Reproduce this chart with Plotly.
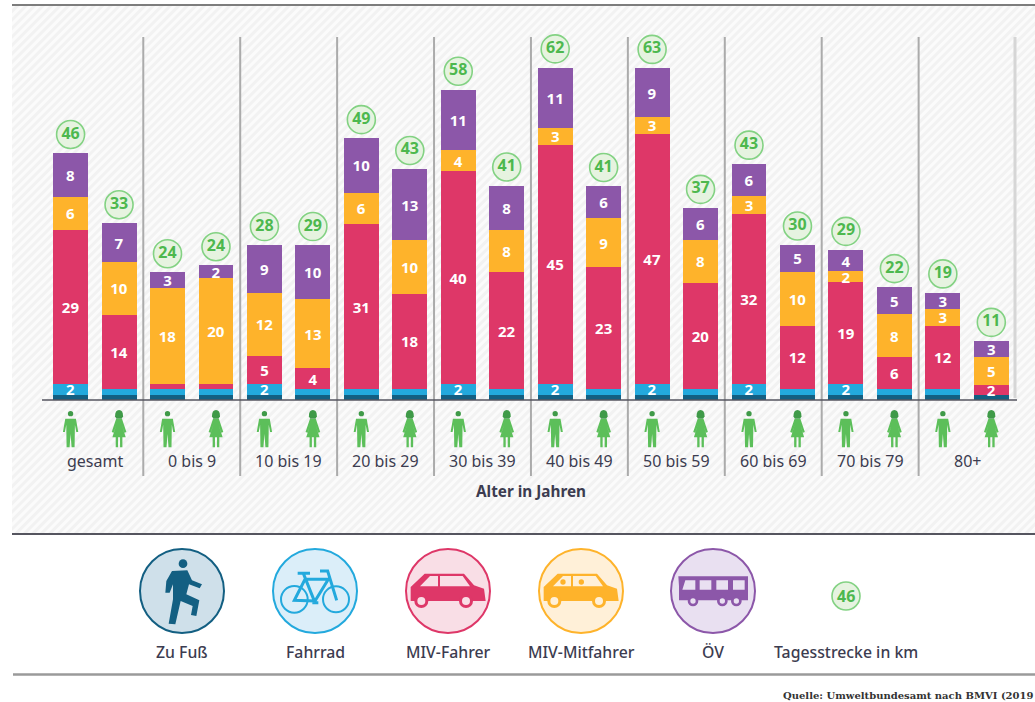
import base64
import plotly.graph_objects as go

W, H = 1035, 702

groups = ["gesamt", "0 bis 9", "10 bis 19", "20 bis 29", "30 bis 39",
          "40 bis 49", "50 bis 59", "60 bis 69", "70 bis 79", "80+"]
categories = [f"{g} {s}" for g in groups for s in ("m", "w")]

zu_fuss = [1, 1, 1, 1, 1, 1, 1, 1, 1, 1, 1, 1, 1, 1, 1, 1, 1, 1, 1, 1]
fahrrad = [2, 1, 1, 1, 2, 1, 1, 1, 2, 1, 2, 1, 2, 1, 2, 1, 2, 1, 1, 0]
miv_fahrer = [29, 14, 1, 1, 5.2, 4, 31, 18, 40, 22, 45, 23, 47, 20, 32, 12, 19.2, 6, 12, 1.8]
miv_mitfahrer = [6.2, 10, 18, 20, 12, 12.9, 6, 10, 4, 8, 3.2, 9.2, 3.2, 8.1, 3.4, 10, 2, 8.1, 3.2, 5.3]
oev = [8.2, 7.2, 3, 2.3, 8.9, 10.2, 10.2, 13.4, 11.3, 8.3, 11.3, 6, 9.2, 6, 6, 5.2, 4, 5.1, 3, 3]

fahrrad_labels = ["2", "", "", "", "2", "", "", "", "2", "", "2", "", "2", "", "2", "", "2", "", "", ""]
fahrer_labels = ["29", "14", "", "", "5", "4", "31", "18", "40", "22", "45", "23", "47", "20", "32", "12", "19", "6", "12", "2"]
mitfahrer_labels = ["6", "10", "18", "20", "12", "13", "6", "10", "4", "8", "3", "9", "3", "8", "3", "10", "2", "8", "3", "5"]
oev_labels = ["8", "7", "3", "2", "9", "10", "10", "13", "11", "8", "11", "6", "9", "6", "6", "5", "4", "5", "3", "3"]
tagesstrecke = [46, 33, 24, 24, 28, 29, 49, 43, 58, 41, 62, 41, 63, 37, 43, 30, 29, 22, 19, 11]

legend_names = ["Zu Fuß", "Fahrrad", "MIV-Fahrer", "MIV-Mitfahrer", "ÖV"]
C_FUSS, C_RAD, C_CAR, C_MIT, C_OEV = "#135f82", "#23a9dd", "#de3768", "#feb32b", "#8c57a9"
GREEN, GREEN_DK, TEXT = "#5cbf5a", "#3f9a48", "#3c3c50"
FONT = "Noto Sans"

def uri(svg):
    return "data:image/svg+xml;base64," + base64.b64encode(svg.encode()).decode()

def px(x): return x / W
def py(y): return 1 - y / H

fig = go.Figure()
segments = [(zu_fuss, C_FUSS, None), (fahrrad, C_RAD, fahrrad_labels), (miv_fahrer, C_CAR, fahrer_labels),
            (miv_mitfahrer, C_MIT, mitfahrer_labels), (oev, C_OEV, oev_labels)]
for (vals, col, labels), name in zip(segments, legend_names):
    fig.add_trace(go.Bar(
        x=categories, y=vals, name=name, marker=dict(color=col, line=dict(width=0)),
        text=labels, textposition="inside", insidetextanchor="middle", textangle=0,
        constraintext="none", cliponaxis=False,
        textfont=dict(family=FONT, size=15, color="white", weight=700),
        hoverinfo="skip", showlegend=False))

tops = [sum(v) for v in zip(zu_fuss, fahrrad, miv_fahrer, miv_mitfahrer, oev)]
fig.add_trace(go.Scatter(
    x=categories, y=[t + 3.5 for t in tops], mode="markers+text",
    text=[str(v) for v in tagesstrecke], textposition="middle center",
    marker=dict(size=28, color="#e6f3e0", line=dict(color="#83d283", width=1.6)),
    textfont=dict(family=FONT, size=16, color="#4db84e", weight=700),
    cliponaxis=False, hoverinfo="skip", showlegend=False))

hatch = f'''<svg xmlns="http://www.w3.org/2000/svg" width="1023" height="528" viewBox="0 0 1023 528">
<defs><pattern id="h" width="6" height="6" patternUnits="userSpaceOnUse" patternTransform="rotate(45)">
<rect width="6" height="6" fill="#f2f2f2"/><rect width="3" height="6" fill="#fbfbfb"/></pattern></defs>
<rect width="1023" height="528" fill="url(#h)"/></svg>'''

def circle_svg(stroke, fill, body):
    return (f'<svg xmlns="http://www.w3.org/2000/svg" width="100" height="100" viewBox="-150 -150 300 300">'
            f'<circle r="126" fill="{fill}" stroke="{stroke}" stroke-width="6"/>{body}</svg>')

walker = circle_svg(C_FUSS, "#cfe0ea", f'''<circle cx="3" cy="-82" r="13" fill="{C_FUSS}"/>
<path fill="{C_FUSS}" d="M-30,-60 L16,-62 L30,-32 L60,-20 L53,-8 L21,-20 L13,10 L52,28 L43,75 L27,72 L32,45 L-4,30 L-20,100 L-40,98 L-27,25 L-27,-20 L-37,5 L-50,5 L-47,-30 Z"/>''')

bike_s = f'fill="none" stroke="{C_RAD}"'
bike = circle_svg(C_RAD, "#dbeef9", f'''<circle cx="-62" cy="25" r="40" {bike_s} stroke-width="6"/>
<circle cx="63" cy="25" r="39" {bike_s} stroke-width="6"/>
<path {bike_s} stroke-width="9" d="M-30,-35 L40,-35 L0,30 L-62,28 Z M-35,-53 L0,35 M-52,-53 L-15,-53 M15,-60 L38,-60 L65,28 M-8,35 L10,35"/>''')

def car(col, pale, extra=""):
    return circle_svg(col, pale, f'''<path fill="{col}" d="M-112,-12 L-70,-52 L48,-52 L78,-17 L108,-7 L113,30 L-112,30 Z"/>
<path fill="{pale}" d="M-84,-14 L-54,-45 L-30,-45 L-30,-14 Z M-24,-45 L44,-45 L66,-14 L-24,-14 Z"/>
{extra}
<circle cx="-80" cy="30" r="21" fill="{col}"/><circle cx="-80" cy="30" r="12" fill="{pale}"/>
<circle cx="54" cy="30" r="21" fill="{col}"/><circle cx="54" cy="30" r="12" fill="{pale}"/>''')

car_a = car(C_CAR, "#f9dee6")
car_b = car(C_MIT, "#fff0d8", f'<circle cx="-54" cy="-27" r="8" fill="{C_MIT}"/><circle cx="1" cy="-27" r="8" fill="{C_MIT}"/>')

bus_p = "#e9e0f1"
bus = circle_svg(C_OEV, bus_p, f'''<path fill="{C_OEV}" d="M-104,-44 L105,-44 L105,28 L-102,28 L-102,-15 Z"/>
<path fill="{bus_p}" d="M-83,-32 L-53,-32 L-53,-4 L-92,-4 Z M-40,-32 L-5,-32 L-5,-4 L-40,-4 Z M10,-32 L45,-32 L45,-4 L10,-4 Z M60,-32 L95,-32 L95,-4 L60,-4 Z"/>
<circle cx="-60" cy="30" r="16" fill="{C_OEV}"/><circle cx="-60" cy="30" r="8" fill="{bus_p}"/>
<circle cx="28" cy="30" r="16" fill="{C_OEV}"/><circle cx="28" cy="30" r="8" fill="{bus_p}"/>
<circle cx="70" cy="30" r="16" fill="{C_OEV}"/><circle cx="70" cy="30" r="8" fill="{bus_p}"/>''')

man = f'''<svg xmlns="http://www.w3.org/2000/svg" width="20" height="40" viewBox="0 0 60 120">
<circle cx="30" cy="17" r="8" fill="{GREEN_DK}"/>
<path fill="{GREEN}" d="M14,32 L46,32 L53,72 L47,72 L43,50 L42,118 L33,118 L30,78 L27,118 L18,118 L17,50 L13,72 L7,72 Z"/></svg>'''
woman = f'''<svg xmlns="http://www.w3.org/2000/svg" width="20" height="40" viewBox="0 0 60 120">
<path fill="{GREEN_DK}" d="M18,25 Q18,6 30,6 Q42,6 42,25 L38,32 L22,32 Z"/>
<path fill="{GREEN}" d="M21,33 L39,33 L52,72 L46,74 L38,50 L50,88 L40,88 L40,118 L33,118 L33,88 L27,88 L27,118 L20,118 L20,88 L10,88 L22,50 L14,74 L8,72 Z"/></svg>'''

images = [dict(source=uri(hatch), xref="paper", yref="paper", x=px(12), y=py(5), sizex=1023 / W, sizey=528 / H,
               xanchor="left", yanchor="top", sizing="stretch", layer="below")]
for i in range(len(categories)):
    images.append(dict(source=uri(man if i % 2 == 0 else woman), xref="x", yref="paper", x=i, y=py(408),
                       sizex=20 / 48.47, sizey=40 / H, xanchor="center", yanchor="top", sizing="stretch", layer="above"))
legend_x = [182, 315, 448, 581, 713]
for src, lx in zip([walker, bike, car_a, car_b, bus], legend_x):
    images.append(dict(source=uri(src), xref="paper", yref="paper", x=px(lx), y=py(591), sizex=100 / W, sizey=100 / H,
                       xanchor="center", yanchor="middle", sizing="stretch", layer="above"))

ann = []
for k, g in enumerate(groups):
    ann.append(dict(text=g, xref="x", yref="paper", x=2 * k + 0.5, y=py(461), showarrow=False,
                    font=dict(family=FONT, size=16, color=TEXT), xanchor="center", yanchor="middle"))
ann.append(dict(text="Alter in Jahren", xref="paper", yref="paper", x=px(531), y=py(491), showarrow=False,
                font=dict(family=FONT, size=15.3, color=TEXT, weight=700), xanchor="center", yanchor="middle"))
for name, lx in zip(legend_names + ["Tagesstrecke in km"], legend_x + [846]):
    ann.append(dict(text=name, xref="paper", yref="paper", x=px(lx), y=py(652), showarrow=False,
                    font=dict(family=FONT, size=15.8, color=TEXT, weight=500), xanchor="center", yanchor="middle"))
ann.append(dict(text="46", xref="paper", yref="paper", x=px(846), y=py(596), showarrow=False,
                font=dict(family=FONT, size=16, color="#4db84e", weight=700), xanchor="center", yanchor="middle"))
ann.append(dict(text="Quelle: Umweltbundesamt nach BMVI (2019", xref="paper", yref="paper", x=px(781), y=py(695), showarrow=False,
                font=dict(family="DejaVu Serif", size=10, color="#333333", weight=700), xanchor="left", yanchor="middle"))

def hline(y, x0, x1, color, w, layer="above"):
    return dict(type="line", xref="paper", yref="paper", x0=px(x0), x1=px(x1), y0=py(y), y1=py(y),
                line=dict(color=color, width=w), layer=layer)

shapes = [hline(5, 12, W, "#7d7d7d", 2), hline(534, 12, W, "#55555f", 2), hline(674.5, 13, W, "#9a9a9a", 2.5)]
for k in range(1, len(groups)):
    shapes.append(dict(type="line", xref="x", yref="paper", x0=2 * k - 0.5, x1=2 * k - 0.5, y0=py(37), y1=py(476),
                       line=dict(color="#ababab", width=2), layer="below"))
shapes.append(dict(type="line", xref="paper", yref="paper", x0=px(1015), x1=px(1015), y0=py(37), y1=py(398),
                   line=dict(color="#d6d6d6", width=3), layer="below"))
shapes.append(hline(400, 42, 1017, "#55555f", 1.5))
shapes.append(dict(type="circle", xref="paper", yref="paper", x0=px(832), x1=px(860), y0=py(582), y1=py(610),
                   fillcolor="#e6f3e0", line=dict(color="#83d283", width=1.6), layer="below"))

fig.update_layout(
    width=W, height=H, autosize=False, margin=dict(l=0, r=0, t=0, b=0, pad=0),
    paper_bgcolor="white", plot_bgcolor="rgba(0,0,0,0)",
    barmode="stack", bargap=0.28,
    xaxis=dict(domain=[px(42), px(1017)], range=[-0.59, 19.53], type="category",
               categoryorder="array", categoryarray=categories, visible=False),
    yaxis=dict(domain=[py(400), py(5)], range=[0, 395 / 5.32], visible=False),
    images=images, annotations=ann, shapes=shapes,
)
fig.write_html("out.html", post_script="document.body.style.margin='0';document.documentElement.style.overflow='hidden';",
               config=dict(displayModeBar=False))
